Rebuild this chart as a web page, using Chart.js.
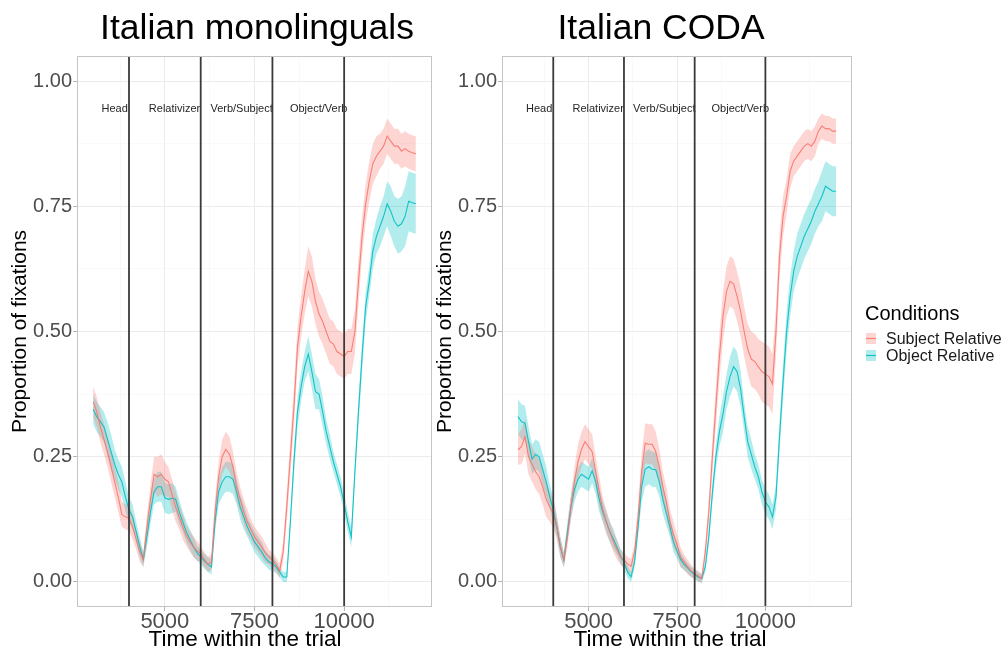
<!DOCTYPE html>
<html>
<head>
<meta charset="utf-8">
<script src="https://cdn.jsdelivr.net/npm/chart.js@4.4.1/dist/chart.umd.min.js"></script>
<style>
  html, body { margin: 0; padding: 0; background: #ffffff; }
  #wrap { position: relative; width: 1006px; height: 648px; overflow: hidden; }
  canvas { position: absolute; top: 0; }
  #c1 { left: 0px; }
  #c2 { left: 425px; }
</style>
</head>
<body>
<div id="wrap">
  <canvas id="c1" width="440" height="648"></canvas>
  <canvas id="c2" width="581" height="648"></canvas>
</div>
<script>
// ---------------- data ----------------
const panelTitles = ["Italian monolinguals", "Italian CODA"];
const seriesNames = ["Subject Relative", "Object Relative"];
const legendTitle = "Conditions";
const xTitle = "Time within the trial";
const yTitle = "Proportion of fixations";

const times = [
  3000,3100,3200,3300,3400,3500,3600,3700,3800,3900,
  4000,4100,4200,4300,4400,4500,4600,4700,4800,4900,
  5000,5100,5200,5300,5400,5500,5600,5700,5800,5900,
  6000,6100,6200,6300,6400,6500,6600,6700,6800,6900,
  7000,7100,7200,7300,7400,7500,7600,7700,7800,7900,
  8000,8100,8200,8300,8400,8500,8600,8700,8800,8900,
  9000,9100,9200,9300,9400,9500,9600,9700,9800,9900,
  10000,10100,10200,10300,10400,10500,10600,10700,10800,10900,
  11000,11100,11200,11300,11400,11500,11600,11700,11800,11900,
  12000];

// Italian monolinguals
const monoSubj = [
  0.36,0.34,0.31,0.285,0.26,0.23,0.20,0.17,0.135,0.13,
  0.127,0.11,0.085,0.06,0.045,0.11,0.165,0.215,0.21,0.215,
  0.205,0.20,0.175,0.15,0.13,0.11,0.092,0.08,0.07,0.062,
  0.057,0.045,0.035,0.04,0.14,0.21,0.25,0.265,0.255,0.23,
  0.19,0.165,0.14,0.12,0.105,0.09,0.08,0.07,0.058,0.05,
  0.044,0.035,0.022,0.06,0.15,0.25,0.35,0.47,0.53,0.58,
  0.62,0.60,0.56,0.535,0.52,0.50,0.48,0.475,0.46,0.455,
  0.45,0.46,0.46,0.50,0.60,0.69,0.755,0.80,0.835,0.85,
  0.86,0.87,0.89,0.88,0.87,0.87,0.86,0.865,0.86,0.857,
  0.855];
const monoSubjBand = [
  0.03,0.03,0.03,0.03,0.03,0.03,0.03,0.03,0.025,0.025,
  0.025,0.025,0.02,0.02,0.015,0.025,0.03,0.035,0.04,0.04,
  0.035,0.03,0.03,0.03,0.025,0.025,0.02,0.02,0.02,0.02,
  0.015,0.015,0.015,0.015,0.025,0.03,0.035,0.035,0.035,0.03,
  0.03,0.025,0.025,0.025,0.02,0.02,0.02,0.02,0.02,0.015,
  0.015,0.015,0.015,0.02,0.03,0.035,0.04,0.04,0.04,0.045,
  0.05,0.05,0.045,0.045,0.045,0.045,0.045,0.045,0.045,0.045,
  0.045,0.045,0.045,0.045,0.045,0.04,0.04,0.04,0.04,0.04,
  0.035,0.035,0.035,0.035,0.035,0.035,0.035,0.035,0.035,0.035,
  0.035];
const monoObj = [
  0.345,0.33,0.32,0.31,0.285,0.26,0.235,0.215,0.20,0.17,
  0.144,0.13,0.10,0.07,0.045,0.09,0.14,0.18,0.19,0.19,
  0.168,0.165,0.167,0.165,0.14,0.12,0.10,0.085,0.07,0.058,
  0.05,0.042,0.035,0.03,0.12,0.18,0.20,0.21,0.21,0.205,
  0.18,0.15,0.13,0.11,0.095,0.08,0.07,0.06,0.048,0.04,
  0.037,0.03,0.02,0.01,0.01,0.12,0.24,0.34,0.39,0.43,
  0.455,0.42,0.38,0.375,0.34,0.30,0.27,0.24,0.215,0.19,
  0.157,0.12,0.09,0.22,0.34,0.45,0.55,0.60,0.66,0.69,
  0.71,0.73,0.755,0.74,0.72,0.71,0.715,0.73,0.76,0.757,
  0.755];
const monoObjBand = [
  0.03,0.03,0.03,0.03,0.035,0.035,0.03,0.03,0.03,0.03,
  0.025,0.025,0.02,0.02,0.015,0.02,0.025,0.025,0.03,0.03,
  0.03,0.03,0.03,0.025,0.025,0.02,0.02,0.02,0.02,0.015,
  0.015,0.015,0.015,0.015,0.02,0.025,0.03,0.03,0.03,0.03,
  0.025,0.025,0.025,0.02,0.02,0.02,0.02,0.02,0.015,0.015,
  0.015,0.012,0.01,0.01,0.01,0.015,0.025,0.03,0.03,0.03,
  0.035,0.035,0.035,0.03,0.03,0.025,0.025,0.02,0.02,0.02,
  0.02,0.02,0.02,0.02,0.025,0.03,0.03,0.03,0.035,0.035,
  0.04,0.04,0.045,0.05,0.05,0.055,0.055,0.06,0.06,0.06,
  0.06];

// Italian CODA
const codaSubj = [
  0.264,0.27,0.29,0.25,0.235,0.22,0.21,0.19,0.165,0.15,
  0.137,0.11,0.07,0.044,0.09,0.15,0.20,0.24,0.265,0.28,
  0.27,0.26,0.22,0.18,0.145,0.12,0.10,0.08,0.065,0.05,
  0.044,0.036,0.031,0.06,0.13,0.22,0.277,0.275,0.275,0.26,
  0.23,0.19,0.16,0.12,0.095,0.075,0.05,0.04,0.03,0.022,
  0.017,0.012,0.007,0.06,0.14,0.25,0.35,0.45,0.53,0.58,
  0.60,0.595,0.57,0.54,0.50,0.465,0.445,0.44,0.43,0.42,
  0.415,0.41,0.395,0.50,0.65,0.73,0.77,0.82,0.84,0.85,
  0.86,0.87,0.875,0.87,0.88,0.90,0.91,0.905,0.905,0.90,
  0.90];
const codaSubjBand = [
  0.03,0.035,0.035,0.035,0.035,0.035,0.035,0.035,0.035,0.03,
  0.03,0.025,0.02,0.015,0.02,0.025,0.03,0.035,0.035,0.035,
  0.035,0.035,0.03,0.03,0.025,0.025,0.02,0.02,0.02,0.015,
  0.015,0.015,0.015,0.015,0.025,0.035,0.04,0.04,0.04,0.04,
  0.035,0.03,0.03,0.025,0.025,0.02,0.02,0.015,0.015,0.012,
  0.01,0.01,0.01,0.015,0.025,0.035,0.04,0.045,0.05,0.05,
  0.05,0.05,0.05,0.05,0.05,0.05,0.055,0.055,0.055,0.06,
  0.06,0.06,0.06,0.05,0.045,0.04,0.035,0.035,0.03,0.03,
  0.03,0.03,0.03,0.03,0.03,0.025,0.025,0.025,0.025,0.025,
  0.025];
const codaObj = [
  0.33,0.32,0.317,0.28,0.245,0.255,0.25,0.225,0.20,0.17,
  0.144,0.11,0.07,0.044,0.10,0.15,0.185,0.205,0.215,0.21,
  0.205,0.222,0.20,0.165,0.14,0.12,0.10,0.086,0.07,0.052,
  0.04,0.02,0.01,0.04,0.11,0.19,0.225,0.23,0.225,0.224,
  0.20,0.165,0.137,0.11,0.08,0.062,0.045,0.035,0.028,0.02,
  0.015,0.01,0.007,0.03,0.09,0.177,0.25,0.30,0.335,0.38,
  0.41,0.43,0.42,0.385,0.33,0.28,0.255,0.23,0.21,0.18,
  0.16,0.15,0.13,0.17,0.29,0.40,0.50,0.57,0.62,0.65,
  0.67,0.69,0.705,0.72,0.74,0.755,0.77,0.79,0.785,0.78,
  0.78];
const codaObjBand = [
  0.035,0.035,0.035,0.03,0.03,0.03,0.03,0.03,0.03,0.025,
  0.025,0.02,0.02,0.015,0.02,0.025,0.025,0.025,0.025,0.025,
  0.025,0.025,0.025,0.025,0.02,0.02,0.02,0.02,0.015,0.015,
  0.015,0.012,0.01,0.012,0.02,0.03,0.035,0.035,0.035,0.035,
  0.03,0.03,0.025,0.02,0.02,0.015,0.015,0.012,0.01,0.01,
  0.01,0.01,0.008,0.01,0.015,0.02,0.025,0.03,0.035,0.035,
  0.04,0.04,0.04,0.035,0.03,0.03,0.03,0.025,0.025,0.025,
  0.025,0.025,0.025,0.025,0.03,0.035,0.04,0.04,0.04,0.045,
  0.045,0.045,0.045,0.045,0.045,0.045,0.05,0.05,0.05,0.05,
  0.05];

// region boundaries and labels
const boundaries = [4000, 6000, 8000, 10000];
const regionNames = ["Head", "Relativizer", "Verb/Subject", "Object/Verb"];
const regionLabelTimes = [3600, 5270, 7140, 9290];
const regionLabelY = 0.945;

// axis breaks
const xMajorTicks = [5000, 7500, 10000];
const xMinorTicks = [3750, 6250, 8750, 11250];
const yMajorTicks = [0, 0.25, 0.5, 0.75, 1.0];
const yMinorTicks = [0.125, 0.375, 0.625, 0.875];
const xLimits = [2550, 12450];
const yLimits = [-0.05, 1.05];

// ---------------- styling ----------------
const FONT = '"Liberation Sans", Arial, Helvetica, sans-serif';
const RED_LINE = 'rgba(248,118,109,0.9)', CYAN_LINE = 'rgba(0,191,196,0.9)';
const RED_FILL = 'rgba(248,118,109,0.3)', CYAN_FILL = 'rgba(0,191,196,0.3)';

function pts(vals) { return times.map((t, i) => ({ x: t, y: vals[i] })); }
function band(vals, hw, sign) { return times.map((t, i) => ({ x: t, y: vals[i] + sign * hw[i] })); }

const decor = {
  id: 'decor',
  afterDatasetsDraw(chart) {
    const { ctx, chartArea: a, scales: { x, y } } = chart;
    ctx.save();
    ctx.font = '11px ' + FONT;
    ctx.fillStyle = '#262626';
    ctx.textAlign = 'center';
    ctx.textBaseline = 'middle';
    regionNames.forEach((n, i) => {
      ctx.fillText(n, x.getPixelForValue(regionLabelTimes[i]), y.getPixelForValue(regionLabelY));
    });
    ctx.strokeStyle = '#3a3a3a';
    ctx.lineWidth = 1.8;
    boundaries.forEach(b => {
      const px = x.getPixelForValue(b);
      ctx.beginPath(); ctx.moveTo(px, a.top); ctx.lineTo(px, a.bottom); ctx.stroke();
    });
    ctx.strokeStyle = '#c4c4c4';
    ctx.lineWidth = 1;
    ctx.strokeRect(Math.round(a.left) + 0.5, Math.round(a.top) + 0.5, Math.round(a.width) - 1, Math.round(a.height) - 1);
    ctx.restore();
  }
};

// panel title, x-axis title (centred on given page x) and optional legend
const overlay = {
  id: 'overlay',
  afterDraw(chart, args, opts) {
    const ctx = chart.ctx;
    const ox = opts.offsetX;
    ctx.save();
    ctx.fillStyle = '#000';
    ctx.textAlign = 'center';
    ctx.textBaseline = 'alphabetic';
    ctx.font = '35.5px ' + FONT;
    ctx.fillText(opts.title, opts.titleX - ox, 38.5);
    ctx.font = '22.5px ' + FONT;
    ctx.fillText(xTitle, opts.xTitleX - ox, 645.5);
    if (opts.legend) {
      ctx.textAlign = 'left';
      ctx.font = '20px ' + FONT;
      ctx.fillText(legendTitle, 865 - ox, 319.5);
      const items = [[RED_FILL, RED_LINE, 333], [CYAN_FILL, CYAN_LINE, 350]];
      ctx.font = '16px ' + FONT;
      items.forEach((it, i) => {
        ctx.fillStyle = it[0];
        ctx.fillRect(866 - ox, it[2], 10, 11);
        ctx.strokeStyle = it[1];
        ctx.lineWidth = 1.2;
        ctx.beginPath(); ctx.moveTo(866 - ox, it[2] + 5.5); ctx.lineTo(876 - ox, it[2] + 5.5); ctx.stroke();
        ctx.fillStyle = '#1a1a1a';
        ctx.fillText(seriesNames[i], 886 - ox, it[2] + 11);
      });
    }
    ctx.restore();
  }
};

function makeChart(canvasId, title, subj, subjBand, obj, objBand, padRight, overlayOpts) {
  const isMajorX = v => xMajorTicks.includes(v);
  const isMajorY = v => yMajorTicks.some(m => Math.abs(m - v) < 1e-9);
  overlayOpts.title = title;
  return new Chart(document.getElementById(canvasId), {
    type: 'line',
    data: {
      datasets: [
        { label: seriesNames[0], data: pts(subj), borderColor: RED_LINE, borderWidth: 1.1, pointRadius: 0, fill: false },
        { label: seriesNames[1], data: pts(obj), borderColor: CYAN_LINE, borderWidth: 1.1, pointRadius: 0, fill: false },
        { label: 'su', data: band(subj, subjBand, 1), borderWidth: 0, borderColor: 'transparent', pointRadius: 0, backgroundColor: RED_FILL, fill: '+1' },
        { label: 'sl', data: band(subj, subjBand, -1), borderWidth: 0, borderColor: 'transparent', pointRadius: 0, fill: false },
        { label: 'ou', data: band(obj, objBand, 1), borderWidth: 0, borderColor: 'transparent', pointRadius: 0, backgroundColor: CYAN_FILL, fill: '+1' },
        { label: 'ol', data: band(obj, objBand, -1), borderWidth: 0, borderColor: 'transparent', pointRadius: 0, fill: false }
      ]
    },
    options: {
      responsive: false,
      animation: false,
      devicePixelRatio: 1,
      events: [],
      layout: { padding: { left: 0, right: padRight, top: 56, bottom: 0 } },
      elements: { line: { tension: 0 } },
      plugins: {
        legend: { display: false },
        tooltip: { enabled: false },
        title: { display: false },
        overlay: overlayOpts
      },
      scales: {
        x: {
          type: 'linear', min: xLimits[0], max: xLimits[1],
          afterBuildTicks: s => { s.ticks = xMinorTicks.concat(xMajorTicks).sort((a, b) => a - b).map(v => ({ value: v })); },
          afterFit: s => { s.height = 41; },
          ticks: {
            autoSkip: false, maxRotation: 0, padding: 0, color: '#4d4d4d',
            font: { family: FONT, size: 22, lineHeight: 1.0 },
            callback: v => isMajorX(v) ? String(v) : ''
          },
          grid: {
            drawTicks: true, tickLength: 4,
            color: c => isMajorX(c.tick.value) ? '#ebebeb' : '#f6f6f6',
            lineWidth: c => isMajorX(c.tick.value) ? 1 : 0.7,
            tickColor: c => isMajorX(c.tick.value) ? '#b3b3b3' : 'rgba(0,0,0,0)'
          },
          border: { display: false },
          title: { display: false }
        },
        y: {
          type: 'linear', min: yLimits[0], max: yLimits[1],
          afterBuildTicks: s => { s.ticks = yMajorTicks.concat(yMinorTicks).sort((a, b) => a - b).map(v => ({ value: v })); },
          afterFit: s => { s.width = 77; },
          ticks: {
            autoSkip: false, padding: 1, color: '#4d4d4d',
            font: { family: FONT, size: 20 },
            callback: v => isMajorY(v) ? v.toFixed(2) : ''
          },
          grid: {
            drawTicks: true, tickLength: 4,
            color: c => isMajorY(c.tick.value) ? '#ebebeb' : '#f6f6f6',
            lineWidth: c => isMajorY(c.tick.value) ? 1 : 0.7,
            tickColor: c => isMajorY(c.tick.value) ? '#b3b3b3' : 'rgba(0,0,0,0)'
          },
          border: { display: false },
          title: {
            display: true, text: yTitle, color: '#000',
            font: { family: FONT, size: 21, lineHeight: 1.2 },
            padding: { top: 8, bottom: 0 }
          }
        }
      }
    },
    plugins: [decor, overlay]
  });
}

makeChart('c1', panelTitles[0], monoSubj, monoSubjBand, monoObj, monoObjBand, 8, { legend: false, offsetX: 0, titleX: 257, xTitleX: 245 });
makeChart('c2', panelTitles[1], codaSubj, codaSubjBand, codaObj, codaObjBand, 154, { legend: true, offsetX: 425, titleX: 661, xTitleX: 670 });
</script>
</body>
</html>
